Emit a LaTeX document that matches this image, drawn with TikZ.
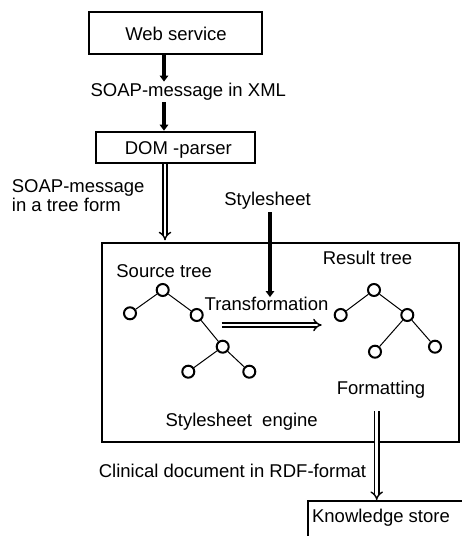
\documentclass[tikz,border=0pt]{standalone}
\usepackage{fontspec}
\setmainfont{Liberation Sans}
\usetikzlibrary{arrows.meta}

\begin{document}
\begin{tikzpicture}[x=1pt, y=-1pt,
  box/.style={draw, line width=2pt, inner sep=0pt},
  lbl/.style={font=\fontsize{18.5}{20}\selectfont, inner sep=0pt, anchor=base},
  solidarrow/.style={line width=3.2pt, -{Triangle[length=6pt,width=8.5pt]}},
  dblarrow/.style={double, double distance=2.8pt, line width=1.4pt, -{Implies}},
  tnode/.style={circle, draw, line width=2pt, minimum size=12pt, inner sep=0pt},
  tedge/.style={line width=1pt}]

\clip (0,0) rectangle (462,536);

% boxes
\node[box, minimum width=173pt, minimum height=42pt] (ws) at (175.8,33.3) {};
\node[box, minimum width=159.3pt, minimum height=31.6pt] (dom) at (175.3,147.5) {};
\node[box, minimum width=357.5pt, minimum height=198.4pt] (engine) at (280.4,342.5) {};
\node[box, minimum width=180pt, minimum height=60pt] (ks) at (398.3,531) {};

% labels
\node[lbl] (wst) at (176,40) {Web service};
\node[lbl, inner sep=1.5pt] (xml) at (188.3,96.7) {SOAP-message in XML};
\node[lbl] (domt) at (178.3,154) {DOM -parser};
\node[lbl, anchor=base west] (tf1) at (11.7,192.7) {SOAP-message};
\node[lbl, anchor=base west] (tf2) at (11.7,211.7) {in a tree form};
\node[lbl] (ss) at (267.5,205) {Stylesheet};
\node[lbl] (srct) at (164.2,277.7) {Source tree};
\node[lbl] (rest) at (367.5,264.3) {Result tree};
\node[lbl] (trans) at (266.5,310.7) {Transformation};
\node[lbl] (fmt) at (381,394) {Formatting};
\node[lbl] (eng) at (241.7,426.7) {Stylesheet\ \ engine};
\node[lbl] (rdf) at (232.5,477) {Clinical document in RDF-format};
\node[lbl] (kst) at (381,522.7) {Knowledge store};

% arrow columns
\coordinate (c1) at (164,0);
\coordinate (c2) at (165,0);
\coordinate (c3) at (270,0);
\coordinate (c4) at (376.7,0);
\coordinate (tA) at (221.7,325);
\coordinate (tB) at (321.7,325);

% connectors
\draw[solidarrow] (ws.south -| c1) -- (xml.north -| c1);
\draw[solidarrow] (xml.south -| c1) -- (dom.north -| c1);
\draw[dblarrow, shorten >=2pt] (dom.south -| c2) -- (engine.north -| c2);
\draw[solidarrow, shorten <=3pt] (ss.south -| c3) -- (trans.north -| c3);
\draw[dblarrow] (tA) -- (tB);
\draw[dblarrow, shorten <=13pt] (fmt.south -| c4) -- (ks.north -| c4);

% source tree
\node[tnode] (s0) at (162.7,290) {};
\node[tnode] (s1) at (130,313.3) {};
\node[tnode] (s2) at (196.7,315) {};
\node[tnode] (s3) at (222.7,346.7) {};
\node[tnode] (s4) at (188.3,371.7) {};
\node[tnode] (s5) at (249.3,371.7) {};
\draw[tedge] (s0) -- (s1);
\draw[tedge] (s0) -- (s2);
\draw[tedge] (s2) -- (s3);
\draw[tedge] (s3) -- (s4);
\draw[tedge] (s3) -- (s5);

% result tree
\node[tnode] (r0) at (374,290) {};
\node[tnode] (r1) at (340.7,315) {};
\node[tnode] (r2) at (407.3,315) {};
\node[tnode] (r3) at (375,351.7) {};
\node[tnode] (r4) at (435,346.7) {};
\draw[tedge] (r0) -- (r1);
\draw[tedge] (r0) -- (r2);
\draw[tedge] (r2) -- (r3);
\draw[tedge] (r2) -- (r4);
\end{tikzpicture}
\end{document}
